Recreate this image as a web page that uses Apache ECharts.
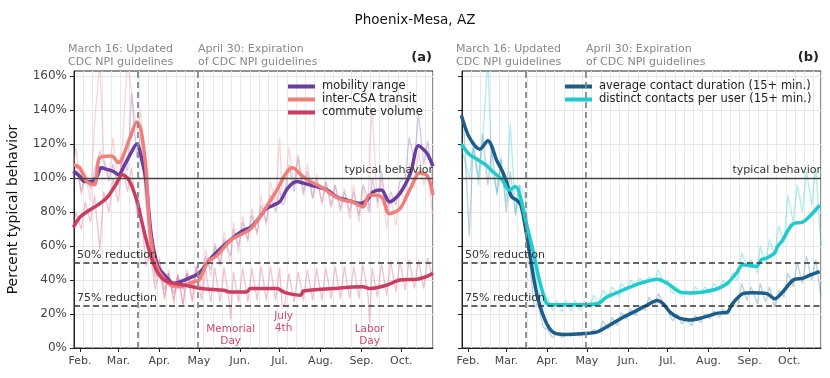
<!DOCTYPE html>
<html>
<head>
<meta charset="utf-8">
<script src="https://cdn.jsdelivr.net/npm/echarts@6/dist/echarts.min.js"></script>
<style>
  html, body { margin: 0; padding: 0; background: #fff; }
  #chart { width: 830px; height: 378px; }
</style>
</head>
<body>
<div id="chart"></div>
<script>
// ---- data (2020, month-day) ----
const monthNames = ['Jan.', 'Feb.', 'Mar.', 'Apr.', 'May', 'Jun.', 'Jul.', 'Aug.', 'Sep.', 'Oct.', 'Nov.', 'Dec.']
const yTicks = [0, 20, 40, 60, 80, 100, 120, 140, 160]

// daily (faint) lines are sampled on Sundays / Wednesdays + holidays
const dailyDates = [
  '01-26', '01-29', '02-02', '02-05', '02-09', '02-12', '02-16', '02-19', '02-23', '02-26',
  '03-01', '03-04', '03-08', '03-11', '03-15', '03-18', '03-22', '03-25', '03-29', '04-01',
  '04-05', '04-08', '04-12', '04-15', '04-19', '04-22', '04-26', '04-29', '05-03', '05-06',
  '05-10', '05-13', '05-17', '05-20', '05-24', '05-25', '05-27', '05-31', '06-03', '06-07',
  '06-10', '06-14', '06-17', '06-21', '06-24', '06-28', '07-01', '07-03', '07-05', '07-08',
  '07-12', '07-15', '07-19', '07-22', '07-26', '07-29', '08-02', '08-05', '08-09', '08-12',
  '08-16', '08-19', '08-23', '08-26', '08-30', '09-02', '09-06', '09-07', '09-09', '09-13',
  '09-16', '09-20', '09-23', '09-27', '09-30', '10-04', '10-07', '10-11', '10-14', '10-18',
  '10-21', '10-25'
]
const mobilityDaily = [
  96, 108, 92, 102, 94, 104, 116, 110, 98, 108,
  96, 112, 104, 150, 112, 126, 84, 62, 42, 52,
  34, 44, 32, 42, 34, 44, 36, 48, 40, 54,
  46, 60, 50, 64, 56, 54, 70, 60, 74, 64,
  78, 68, 84, 74, 90, 80, 94, 84, 86, 108,
  92, 112, 90, 104, 88, 100, 86, 98, 84, 96,
  82, 92, 80, 92, 78, 96, 88, 80, 100, 86,
  104, 80, 92, 84, 98, 100, 124, 110, 138, 108,
  122, 96
]
const transitDaily = [
  100, 118, 90, 104, 86, 132, 168, 112, 100, 124,
  96, 118, 170, 150, 128, 140, 88, 72, 38, 54,
  28, 46, 26, 44, 24, 46, 28, 48, 34, 58,
  42, 62, 48, 68, 52, 50, 74, 56, 78, 62,
  82, 66, 90, 72, 98, 84, 124, 90, 92, 118,
  96, 114, 92, 108, 88, 102, 84, 98, 82, 96,
  80, 94, 76, 96, 74, 94, 80, 118, 140, 82,
  100, 70, 88, 72, 92, 88, 108, 94, 116, 96,
  104, 76
]
const commuteDaily = [
  62, 80, 70, 86, 74, 90, 58, 92, 80, 100,
  86, 110, 92, 106, 80, 82, 48, 56, 34, 46,
  30, 44, 28, 43, 26, 44, 27, 46, 28, 46,
  27, 47, 27, 47, 27, 17, 45, 27, 47, 27,
  47, 28, 48, 28, 48, 28, 47, 24, 26, 44,
  27, 45, 28, 46, 28, 47, 28, 47, 29, 48,
  29, 48, 29, 48, 29, 49, 30, 15, 47, 30,
  50, 31, 51, 33, 51, 34, 52, 35, 52, 35,
  53, 40
]
const durationDaily = [
  130, 128, 66, 120, 100, 126, 96, 116, 90, 112,
  80, 104, 78, 96, 70, 56, 24, 26, 12, 11,
  6, 9, 6, 8, 7, 9, 7, 9, 8, 11,
  9, 16, 11, 18, 13, 12, 21, 17, 23, 19,
  25, 22, 30, 24, 32, 26, 24, 18, 16, 20,
  14, 18, 13, 19, 15, 20, 17, 22, 18, 23,
  20, 27, 24, 38, 28, 36, 28, 26, 38, 27,
  36, 24, 34, 30, 44, 36, 50, 38, 54, 40,
  52, 30
]
const distinctDaily = [
  122, 112, 100, 118, 96, 120, 170, 104, 92, 110,
  86, 132, 80, 96, 90, 62, 48, 36, 24, 30,
  22, 28, 21, 28, 22, 28, 22, 28, 24, 31,
  27, 34, 30, 36, 32, 30, 38, 34, 40, 36,
  41, 38, 42, 39, 46, 38, 40, 34, 32, 36,
  30, 34, 31, 36, 32, 36, 33, 38, 34, 40,
  36, 44, 40, 56, 48, 52, 46, 44, 60, 50,
  64, 54, 72, 62, 90, 74, 96, 80, 104, 84,
  106, 60
]

// smoothed (thick) lines
const mobilityDates = ['01-27', '02-01', '02-04', '02-10', '02-14', '02-17', '02-22', '02-26', '03-01', '03-06',
  '03-10', '03-15', '03-19', '03-22', '03-26', '03-31', '04-06', '04-12', '04-20', '05-01',
  '05-09', '05-18', '05-27', '06-03', '06-09', '06-15', '06-21', '07-01', '07-07', '07-14',
  '07-19', '07-29', '08-06', '08-13', '08-21', '08-31', '09-05', '09-10', '09-16', '09-22',
  '09-30', '10-08', '10-14', '10-20', '10-25']
const mobilityValues = [104, 101, 98, 98, 101, 106, 105, 104, 102, 108,
  114, 120, 110, 98, 66, 48, 42, 38, 40, 44,
  52, 59, 65, 69, 71, 76, 82, 86, 94, 98,
  97, 95, 93, 89, 87, 85, 87, 92, 93, 86,
  91, 103, 119, 115, 107]

const transitDates = ['01-27', '02-01', '02-06', '02-12', '02-16', '02-25', '03-01', '03-10', '03-15', '03-18',
  '03-22', '03-25', '03-30', '04-08', '04-16', '04-27', '05-01', '05-08', '05-14', '05-26',
  '06-09', '06-21', '06-29', '07-06', '07-11', '07-17', '07-22', '08-03', '08-10', '08-18',
  '08-25', '09-02', '09-07', '09-16', '09-22', '09-30', '10-08', '10-15', '10-21', '10-25']
const transitValues = [108, 106, 98, 96, 112, 113, 109, 124, 133, 129,
  105, 68, 48, 38, 36, 39, 40, 51, 54, 64,
  70, 83, 93, 103, 106, 102, 99, 94, 90, 87,
  86, 83, 90, 89, 79, 82, 94, 103, 101, 90]

const commuteDates = ['01-27', '02-01', '02-06', '02-16', '02-22', '02-28', '03-04', '03-09', '03-15', '03-18',
  '03-22', '03-27', '04-01', '04-07', '04-20', '05-03', '05-20', '05-24', '06-06', '06-09',
  '06-29', '07-04', '07-08', '07-17', '07-19', '08-10', '09-02', '09-07', '09-20', '09-30',
  '10-13', '10-20', '10-25']
const commuteValues = [71, 77, 80, 85, 89, 96, 102, 99, 87, 77,
  64, 51, 43, 39, 37, 35, 34, 33, 33, 35,
  35, 33, 32, 31, 33.5, 35, 36, 35, 37, 40,
  40.5, 42, 44]

const durationDates = ['01-27', '02-02', '02-10', '02-16', '02-23', '02-27', '03-01', '03-05', '03-09', '03-12',
  '03-15', '03-19', '03-24', '03-30', '04-05', '04-14', '04-29', '05-09', '05-16', '05-28',
  '06-05', '06-15', '06-23', '06-27', '07-03', '07-10', '07-18', '07-28', '08-08', '08-15',
  '08-19', '08-27', '09-03', '09-14', '09-20', '09-26', '10-04', '10-11', '10-17', '10-24']
const durationValues = [137, 124, 117, 122, 110, 104, 98, 89, 87, 84,
  73, 54, 32, 17, 9.5, 8, 8.5, 9.5, 12.5, 18,
  21, 25, 28, 26.5, 21, 17.6, 16.5, 18, 20.5, 21,
  26, 32, 32.5, 32, 29, 33, 40, 41, 43, 45]

const distinctDates = ['01-27', '02-02', '02-08', '02-14', '02-21', '02-27', '03-03', '03-08', '03-12', '03-16',
  '03-21', '03-26', '03-31', '04-03', '04-29', '05-09', '05-16', '05-28', '06-10', '06-23',
  '07-01', '07-10', '07-18', '07-28', '08-08', '08-15', '08-22', '08-27', '09-06', '09-10',
  '09-14', '09-20', '09-22', '09-26', '10-01', '10-05', '10-11', '10-17', '10-24']
const distinctValues = [120, 114, 111, 108, 103, 99, 93, 95, 88, 74,
  58, 40, 27, 25.5, 25.5, 26, 30, 34, 38, 40.5,
  38, 33, 32.4, 33, 35, 38, 44, 49, 48, 52,
  53, 56, 59.6, 63.5, 70.5, 73.5, 74, 78, 84]

const holidays = [
  { name: 'Memorial\nDay', date: '05-25', y: 7.5 },
  { name: 'July\n4th', date: '07-04', y: 15 },
  { name: 'Labor\nDay', date: '09-07', y: 7.5 }
]

// ---- helpers ----
const FONT = 'DejaVu Sans'
const DAY = 86400000
const ts = md => new Date('2020-' + md + 'T00:00:00').getTime()
const pairs = (dates, values) => dates.map((d, i) => [ts(d), values[i]])
const xMin = ts('01-27') + DAY / 2
const xMax = ts('10-25')

const chart = echarts.init(document.getElementById('chart'))

const timeAxis = gridIndex => ({
  gridIndex: gridIndex,
  type: 'time',
  min: xMin,
  max: xMax,
  axisLine: { lineStyle: { color: '#222', width: 1 } },
  axisTick: { length: 4, lineStyle: { color: '#222' } },
  axisLabel: {
    fontFamily: FONT, fontSize: 11, color: '#444', margin: 8,
    formatter: v => monthNames[new Date(v).getMonth()]
  },
  splitLine: { show: false }
})
// weekly vertical grid
const weekAxis = gridIndex => ({
  gridIndex: gridIndex,
  type: 'value',
  min: xMin,
  max: xMax,
  interval: 7 * DAY,
  axisLine: { show: false },
  axisTick: { show: false },
  axisLabel: { show: false },
  splitLine: { show: true, lineStyle: { color: '#e9e9e9', width: 1 } }
})
const pctAxis = (gridIndex, labels) => ({
  gridIndex: gridIndex,
  type: 'value',
  min: 0,
  max: 163,
  interval: 20,
  axisLine: { show: true, lineStyle: { color: '#222' } },
  axisTick: { show: true, length: 4, customValues: yTicks, lineStyle: { color: '#222' } },
  axisLabel: {
    show: labels, customValues: yTicks,
    fontFamily: FONT, fontSize: 12, color: '#444', margin: 7,
    formatter: v => v + '%'
  },
  splitLine: { lineStyle: { color: '#e6e6e6', width: 1 } },
  name: labels ? 'Percent typical behavior' : '',
  nameLocation: 'middle',
  nameGap: 54,
  nameTextStyle: { fontFamily: FONT, fontSize: 14, color: '#111' }
})

const faint = (name, color, data, xi, yi, op) => ({
  name: name, type: 'line', xAxisIndex: xi, yAxisIndex: yi,
  data: data, symbol: 'none', silent: true, z: 1,
  lineStyle: { color: color, width: 1.3, opacity: op },
  itemStyle: { color: color }
})
const thick = (name, color, data, xi, yi) => ({
  name: name, type: 'line', xAxisIndex: xi, yAxisIndex: yi,
  data: data, symbol: 'none', smooth: 0.3, z: 3,
  lineStyle: { color: color, width: 3.5 },
  itemStyle: { color: color }
})

const refLines = {
  symbol: ['none', 'none'],
  silent: true,
  animation: false,
  label: { fontFamily: FONT, fontSize: 11, color: '#333' },
  data: [
    { yAxis: 100, lineStyle: { color: '#444', type: 'solid', width: 1.3 },
      label: { show: true, position: 'insideEndTop', formatter: 'typical behavior', distance: [0, 2] } },
    { yAxis: 50, lineStyle: { color: '#333', type: [6, 3.5], width: 1.7 },
      label: { show: true, position: 'insideStartTop', formatter: '50% reduction', distance: [3, 2] } },
    { yAxis: 25, lineStyle: { color: '#333', type: [6, 3.5], width: 1.7 },
      label: { show: true, position: 'insideStartTop', formatter: '75% reduction', distance: [3, 2] } },
    { xAxis: ts('03-16'), lineStyle: { color: '#888', type: [6, 4], width: 1.8 }, label: { show: false } },
    { xAxis: ts('04-30'), lineStyle: { color: '#888', type: [6, 4], width: 1.8 }, label: { show: false } }
  ]
}

const mobilityThick = thick('mobility range', '#6a3d9f', pairs(mobilityDates, mobilityValues), 0, 0)
mobilityThick.markLine = refLines
const commuteThick = thick('commute volume', '#cc3c60', pairs(commuteDates, commuteValues), 0, 0)
commuteThick.markPoint = {
  symbol: 'rect', symbolSize: 1, silent: true, animation: false,
  itemStyle: { color: 'rgba(0,0,0,0)' },
  label: { show: true, position: 'inside', formatter: '{b}', fontFamily: FONT, fontSize: 10.5, lineHeight: 12, color: '#d2476b' },
  data: holidays.map(h => ({ name: h.name, coord: [ts(h.date), h.y] }))
}
const durationThick = thick('average contact duration (15+ min.)', '#1b5e8c', pairs(durationDates, durationValues), 2, 1)
durationThick.markLine = refLines

const legendBase = {
  orient: 'vertical', icon: 'rect', itemWidth: 27, itemHeight: 4, itemGap: 0, padding: 0,
  selectedMode: false,
  textStyle: { fontFamily: FONT, fontSize: 11.5, color: '#222', lineHeight: 13, padding: [0, 0, 0, 2] }
}

const noteText = (x, txt) => ({
  type: 'text', left: x, top: 43,
  style: { text: txt, fill: '#888', font: '11px "DejaVu Sans"', lineHeight: 12.7 }
})
const panelTag = (right, txt) => ({
  type: 'text', right: right, top: 51,
  style: { text: txt, fill: '#222', font: 'bold 13px "DejaVu Sans"' }
})

chart.setOption({
  animation: false,
  backgroundColor: '#fff',
  title: {
    text: 'Phoenix-Mesa, AZ', left: 'center', top: 8,
    textStyle: { fontFamily: FONT, fontSize: 13.5, fontWeight: 'normal', color: '#111' }
  },
  grid: [
    { left: 74, top: 71, width: 359, height: 277, show: true, borderColor: '#222', borderWidth: 1, containLabel: false },
    { left: 462, top: 71, width: 359, height: 277, show: true, borderColor: '#222', borderWidth: 1, containLabel: false }
  ],
  xAxis: [timeAxis(0), weekAxis(0), timeAxis(1), weekAxis(1)],
  yAxis: [pctAxis(0, true), pctAxis(1, false)],
  legend: [
    Object.assign({}, legendBase, { left: 288, top: 80, data: ['mobility range', 'inter-CSA transit', 'commute volume'] }),
    Object.assign({}, legendBase, { left: 565, top: 80, data: ['average contact duration (15+ min.)', 'distinct contacts per user (15+ min.)'] })
  ],
  graphic: [
    noteText(68, 'March 16: Updated\nCDC NPI guidelines'),
    noteText(198, 'April 30: Expiration\nof CDC NPI guidelines'),
    noteText(456, 'March 16: Updated\nCDC NPI guidelines'),
    noteText(586, 'April 30: Expiration\nof CDC NPI guidelines'),
    panelTag(398, '(a)'),
    panelTag(11, '(b)')
  ],
  series: [
    faint('mobility daily', '#8059b3', pairs(dailyDates, mobilityDaily), 0, 0, 0.33),
    faint('transit daily', '#f2898a', pairs(dailyDates, transitDaily), 0, 0, 0.35),
    faint('commute daily', '#d0466a', pairs(dailyDates, commuteDaily), 0, 0, 0.32),
    mobilityThick,
    thick('inter-CSA transit', '#f07f7a', pairs(transitDates, transitValues), 0, 0),
    commuteThick,
    faint('duration daily', '#2f6e9c', pairs(dailyDates, durationDaily), 2, 1, 0.32),
    faint('distinct daily', '#30cfd3', pairs(dailyDates, distinctDaily), 2, 1, 0.38),
    durationThick,
    thick('distinct contacts per user (15+ min.)', '#1fcbcd', pairs(distinctDates, distinctValues), 2, 1)
  ]
})
</script>
</body>
</html>
